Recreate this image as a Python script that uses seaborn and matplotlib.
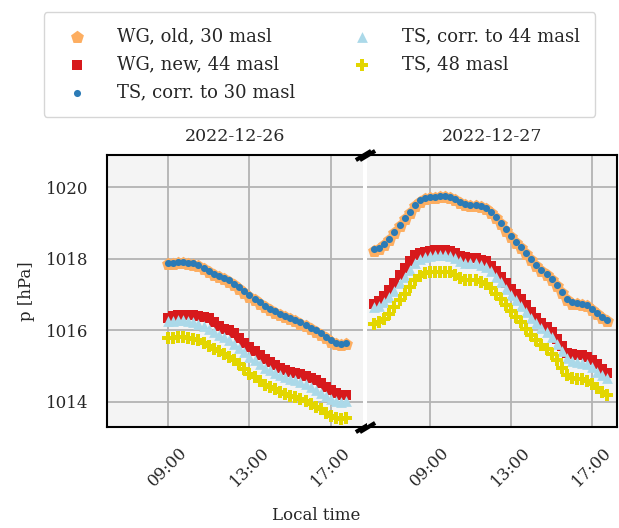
import numpy as np
import pandas as pd
import seaborn as sns
import matplotlib
matplotlib.use("Agg")
import matplotlib.pyplot as plt
import matplotlib.dates as mdates

# ---------------- data ----------------
day1_times = pd.date_range("2022-12-26 09:00", periods=36, freq="15min")
day2_times = pd.date_range("2022-12-27 06:15", periods=47, freq="15min")

wg_old_d1 = [1017.85, 1017.86, 1017.87, 1017.87, 1017.86, 1017.84, 1017.80, 1017.71, 1017.62,
             1017.54, 1017.49, 1017.43, 1017.36, 1017.26, 1017.16, 1017.05, 1016.94, 1016.84,
             1016.74, 1016.64, 1016.56, 1016.49, 1016.42, 1016.37, 1016.31, 1016.25, 1016.19,
             1016.11, 1016.04, 1015.96, 1015.88, 1015.78, 1015.68, 1015.61, 1015.59, 1015.62]
wg_new_d1 = [1016.34, 1016.40, 1016.43, 1016.43, 1016.43, 1016.43, 1016.41, 1016.38, 1016.34,
             1016.22, 1016.11, 1016.05, 1016.00, 1015.93, 1015.79, 1015.65, 1015.53, 1015.42,
             1015.31, 1015.20, 1015.12, 1015.03, 1014.94, 1014.88, 1014.85, 1014.82, 1014.79,
             1014.73, 1014.68, 1014.62, 1014.52, 1014.42, 1014.32, 1014.24, 1014.19, 1014.20]
ts30_d1 = [1017.88, 1017.89, 1017.90, 1017.90, 1017.89, 1017.88, 1017.84, 1017.75, 1017.66,
           1017.58, 1017.53, 1017.47, 1017.40, 1017.30, 1017.20, 1017.09, 1016.98, 1016.88,
           1016.78, 1016.68, 1016.60, 1016.53, 1016.46, 1016.41, 1016.35, 1016.29, 1016.23,
           1016.15, 1016.08, 1016.00, 1015.92, 1015.82, 1015.72, 1015.65, 1015.62, 1015.64]
ts44_d1 = [1016.25, 1016.27, 1016.29, 1016.29, 1016.27, 1016.24, 1016.19, 1016.12, 1016.03,
           1015.95, 1015.88, 1015.82, 1015.73, 1015.63, 1015.52, 1015.40, 1015.26, 1015.16,
           1015.05, 1014.95, 1014.88, 1014.82, 1014.75, 1014.70, 1014.65, 1014.60, 1014.55,
           1014.49, 1014.41, 1014.34, 1014.26, 1014.17, 1014.09, 1014.03, 1013.99, 1014.02]
ts48_d1 = [1015.78, 1015.80, 1015.82, 1015.82, 1015.80, 1015.77, 1015.72, 1015.65, 1015.56,
           1015.48, 1015.41, 1015.35, 1015.26, 1015.16, 1015.05, 1014.93, 1014.79, 1014.69,
           1014.58, 1014.48, 1014.41, 1014.35, 1014.28, 1014.23, 1014.18, 1014.13, 1014.08,
           1014.02, 1013.94, 1013.87, 1013.79, 1013.70, 1013.62, 1013.56, 1013.52, 1013.55]

wg_old_d2 = [1018.23, 1018.28, 1018.39, 1018.53, 1018.72, 1018.91, 1019.10, 1019.29, 1019.47,
             1019.60, 1019.67, 1019.69, 1019.70, 1019.72, 1019.73, 1019.71, 1019.63, 1019.55,
             1019.49, 1019.47, 1019.48, 1019.45, 1019.40, 1019.28, 1019.13, 1018.96, 1018.79,
             1018.62, 1018.45, 1018.31, 1018.14, 1017.96, 1017.80, 1017.67, 1017.55, 1017.41,
             1017.23, 1017.04, 1016.85, 1016.75, 1016.73, 1016.71, 1016.68, 1016.58, 1016.46,
             1016.35, 1016.27]
wg_new_d2 = [1016.74, 1016.82, 1016.95, 1017.13, 1017.32, 1017.54, 1017.74, 1017.95, 1018.10,
             1018.17, 1018.20, 1018.22, 1018.24, 1018.25, 1018.25, 1018.22, 1018.15, 1018.08,
             1018.04, 1018.03, 1018.02, 1017.98, 1017.93, 1017.80, 1017.65, 1017.48, 1017.32,
             1017.17, 1017.03, 1016.87, 1016.70, 1016.50, 1016.34, 1016.21, 1016.09, 1015.95,
             1015.77, 1015.56, 1015.38, 1015.33, 1015.32, 1015.30, 1015.25, 1015.18, 1015.07,
             1014.93, 1014.80]
ts30_d2 = [1018.26, 1018.31, 1018.42, 1018.56, 1018.75, 1018.94, 1019.13, 1019.32, 1019.50,
           1019.63, 1019.70, 1019.72, 1019.73, 1019.75, 1019.76, 1019.74, 1019.66, 1019.58,
           1019.52, 1019.50, 1019.51, 1019.48, 1019.43, 1019.31, 1019.16, 1018.99, 1018.82,
           1018.65, 1018.48, 1018.34, 1018.17, 1017.99, 1017.83, 1017.70, 1017.58, 1017.44,
           1017.26, 1017.07, 1016.88, 1016.78, 1016.76, 1016.74, 1016.71, 1016.61, 1016.49,
           1016.38, 1016.30]
ts44_d2 = [1016.65, 1016.69, 1016.78, 1016.93, 1017.11, 1017.31, 1017.49, 1017.69, 1017.87,
           1017.99, 1018.06, 1018.09, 1018.10, 1018.11, 1018.11, 1018.09, 1018.02, 1017.94,
           1017.89, 1017.87, 1017.87, 1017.83, 1017.77, 1017.65, 1017.50, 1017.34, 1017.17,
           1017.00, 1016.84, 1016.69, 1016.52, 1016.35, 1016.20, 1016.07, 1015.95, 1015.81,
           1015.63, 1015.43, 1015.22, 1015.14, 1015.12, 1015.10, 1015.06, 1014.97, 1014.85,
           1014.75, 1014.67]
ts48_d2 = [1016.18, 1016.22, 1016.31, 1016.46, 1016.64, 1016.84, 1017.02, 1017.22, 1017.40,
           1017.52, 1017.59, 1017.62, 1017.63, 1017.64, 1017.64, 1017.62, 1017.55, 1017.47,
           1017.42, 1017.40, 1017.40, 1017.36, 1017.30, 1017.18, 1017.03, 1016.87, 1016.70,
           1016.53, 1016.37, 1016.22, 1016.05, 1015.88, 1015.73, 1015.60, 1015.48, 1015.34,
           1015.16, 1014.96, 1014.75, 1014.67, 1014.65, 1014.63, 1014.59, 1014.50, 1014.38,
           1014.28, 1014.20]

series_labels = ["WG, old, 30 masl", "WG, new, 44 masl", "TS, corr. to 30 masl",
                 "TS, corr. to 44 masl", "TS, 48 masl"]
day_titles = ["2022-12-26", "2022-12-27"]
yticks_vals = [1014, 1016, 1018, 1020]

# ---------------- style ----------------
sns.set_style("whitegrid")
plt.rcParams["font.family"] = ["DejaVu Serif"]
plt.rcParams["font.size"] = 12

colors = ["#fdae61", "#d7191c", "#2c7bb6", "#abd9e9", "#e3d600"]
markers = ["p", "s", "o", "^", "P"]
sizes = [95, 60, 26, 60, 85]

fig = plt.figure(figsize=(6.19, 5.28), dpi=100)
ax1 = fig.add_axes([0.1724, 0.1913, 0.4145, 0.5151])
ax2 = fig.add_axes([0.5930, 0.1913, 0.4040, 0.5151], sharey=ax1)

days = [
    (ax1, day1_times, [wg_old_d1, wg_new_d1, ts30_d1, ts44_d1, ts48_d1]),
    (ax2, day2_times, [wg_old_d2, wg_new_d2, ts30_d2, ts44_d2, ts48_d2]),
]

for ax, times, vals in days:
    for lab, v, c, m, s in zip(series_labels, vals, colors, markers, sizes):
        df = pd.DataFrame({"time": times, "p": v})
        sns.scatterplot(data=df, x="time", y="p", ax=ax, color=c, marker=m, s=s,
                        linewidth=0, label=lab, legend=False)

for ax in (ax1, ax2):
    ax.set_facecolor("#f4f4f4")
    ax.grid(True, color="#b3b3b3", linewidth=1.3)
    ax.set_xlabel("")
    ax.set_ylabel("")
    ax.xaxis.set_major_locator(mdates.HourLocator(byhour=[9, 13, 17]))
    ax.xaxis.set_minor_locator(mdates.HourLocator(byhour=[7, 11, 15]))
    ax.xaxis.set_major_formatter(mdates.DateFormatter("%H:%M"))
    ax.tick_params(axis="x", which="major", length=9, width=1.3, color="k",
                   labelrotation=45, pad=3)
    ax.tick_params(axis="x", which="minor", length=5, width=1.0, color="k")
    for lbl in ax.get_xticklabels():
        lbl.set_ha("center")
    for sp in ax.spines.values():
        sp.set_color("k")
        sp.set_linewidth(1.5)

ax1.set_xlim(pd.Timestamp("2022-12-26 06:00"), pd.Timestamp("2022-12-26 18:35"))
ax2.set_xlim(pd.Timestamp("2022-12-27 05:54"), pd.Timestamp("2022-12-27 18:14"))
ax1.set_ylim(1013.3, 1020.9)
ax1.set_yticks(yticks_vals)
ax1.tick_params(axis="y", length=8, width=1.3, color="k", pad=5)
ax1.spines["right"].set_visible(False)
ax2.spines["left"].set_visible(False)
ax2.tick_params(axis="y", left=False, labelleft=False)

ax1.set_title(day_titles[0], pad=10, fontsize=12.5)
ax2.set_title(day_titles[1], pad=10, fontsize=12.5)

# break marks
d = 0.6
kw = dict(marker=[(-1, -d), (1, d)], markersize=11, linestyle="none", color="k",
          mec="k", mew=3.0, clip_on=False, zorder=10)
ax1.plot([1, 1], [0, 1], transform=ax1.transAxes, **kw)
ax2.plot([0, 0], [0, 1], transform=ax2.transAxes, **kw)

ax1.set_ylabel("p [hPa]", labelpad=8)
fig.text(316 / 619, 1 - 516 / 528, "Local time", ha="center", va="center", fontsize=12)

handles, labels = ax1.get_legend_handles_labels()
leg = fig.legend(handles, labels, loc="upper center", bbox_to_anchor=(0.516, 0.977),
                 ncol=2, frameon=True, fancybox=True, edgecolor="#cccccc", fontsize=13,
                 columnspacing=2.67, handletextpad=1.22, borderpad=0.85, labelspacing=0.55,
                 borderaxespad=0.0, markerscale=1.0)

fig.savefig("out.png", dpi=100)
